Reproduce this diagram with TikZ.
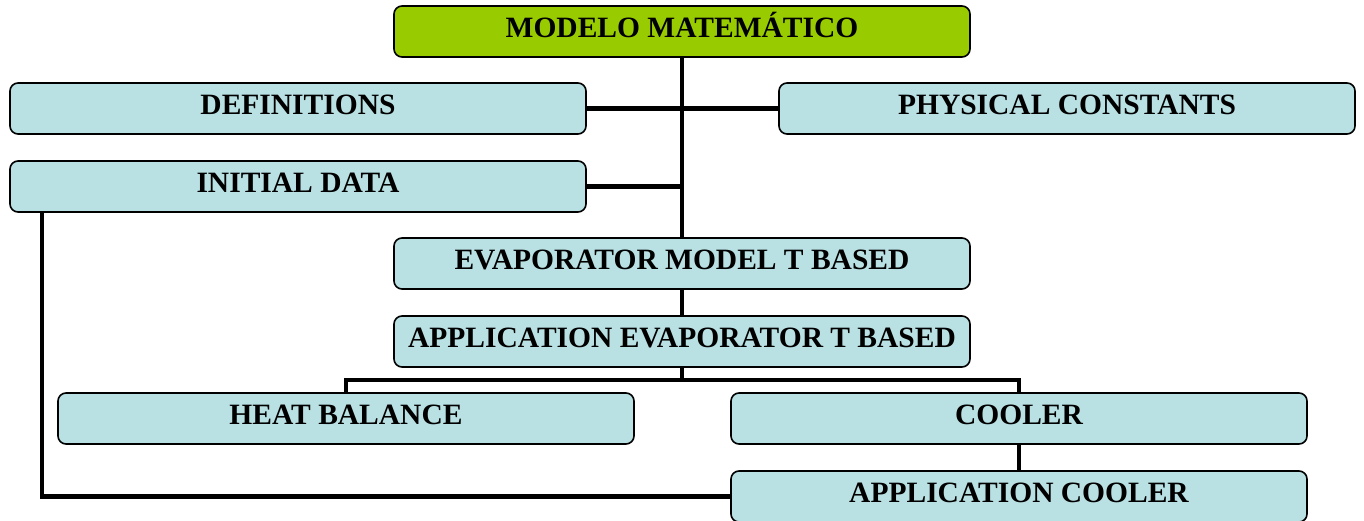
\documentclass[tikz,border=0pt]{standalone}
\usepackage{fontspec}
\setmainfont{Liberation Serif}
\usetikzlibrary{calc,backgrounds}
\begin{document}
\begin{tikzpicture}[x=1pt,y=1pt,
  box/.style={draw=black, line width=1.6pt, rounded corners=8pt, fill=boxblue,
    minimum width=576pt, minimum height=51pt, inner sep=0pt,
    font=\fontsize{29.5}{32}\selectfont\bfseries, text height=20pt, text depth=8pt},
  topbox/.style={box, fill=boxgreen},
  conn/.style={line width=4.5pt, draw=black}]
\definecolor{boxblue}{HTML}{B9E0E3}
\definecolor{boxgreen}{HTML}{99CC00}
\useasboundingbox (0,0) rectangle (1364,-521);
% nodes
\node[topbox] (top) at (682,-31.5) {MODELO MATEMÁTICO};
\node[box] (def) at (298,-108.5) {DEFINITIONS};
\node[box] (phys) at (1067,-108.5) {PHYSICAL CONSTANTS};
\node[box] (init) at (298,-186.5) {INITIAL DATA};
\node[box] (evap) at (682,-263.5) {EVAPORATOR MODEL T BASED};
\node[box] (appev) at (682,-341.5) {APPLICATION EVAPORATOR T BASED};
\node[box] (heat) at (346,-418.5) {HEAT BALANCE};
\node[box] (cool) at (1019,-418.5) {COOLER};
\node[box] (appcool) at (1019,-496.5) {APPLICATION COOLER};
% connectors
\coordinate (j) at ($(appev.south)+(0,-12)$);
\coordinate (lft) at ($(init.south west)+(33,0)$);
\begin{scope}[on background layer]
\draw[conn] (top.south) -- (evap.north);
\draw[conn] (def.east) -- (phys.west);
\draw[conn] (init.east) -- (init.east -| top.south);
\draw[conn] (evap.south) -- (appev.north);
\draw[conn] (appev.south) -- (j);
\draw[conn] (heat.north) |- (j) -| (cool.north);
\draw[conn] (cool.south) -- (appcool.north);
\draw[conn] (lft) |- (appcool.west);
\end{scope}
\end{tikzpicture}
\end{document}
